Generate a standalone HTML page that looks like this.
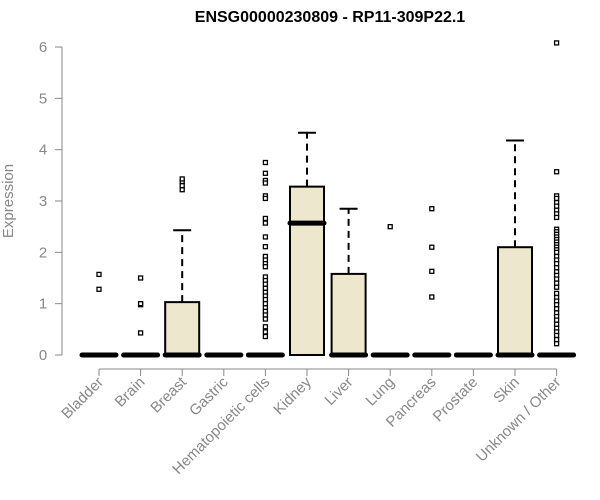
<!DOCTYPE html>
<html><head><meta charset="utf-8"><style>body{margin:0;background:#fff}svg{display:block;font-family:"Liberation Sans",sans-serif}</style></head>
<body>
<svg id="c" width="600" height="500">
<text x="330" y="22" text-anchor="middle" font-weight="bold" font-size="16">ENSG00000230809 - RP11-309P22.1</text>
<text transform="translate(13,201) rotate(-90)" text-anchor="middle" font-size="15" fill="#888">Expression</text>
<g id="g"></g>
</svg>
<script>
const categories=["Bladder","Brain","Breast","Gastric","Hematopoietic cells","Kidney","Liver","Lung","Pancreas","Prostate","Skin","Unknown / Other"];
const q1=[0,0,0,0,0,0,0,0,0,0,0,0];
const medians=[0,0,0,0,0,2.57,0,0,0,0,0,0];
const q3=[0,0,1.03,0,0,3.28,1.58,0,0,0,2.1,0];
const whiskerHi=[0,0,2.43,0,0,4.33,2.85,0,0,0,4.18,0];
const outliers=[[1.28,1.57],[0.43,0.98,1.0,1.5],[3.22,3.3,3.38,3.43],[],
[3.75,3.54,3.4,3.35,3.1,3.05,2.66,2.57,2.3,2.11,1.92,1.85,1.78,1.72,1.52,1.45,1.38,1.3,1.22,1.15,1.08,1.0,0.92,0.85,0.78,0.7,0.55,0.45,0.36],
[],[],[2.5],[1.13,1.63,2.1,2.85],[],[],
[6.08,3.57,3.1,3.05,2.97,2.9,2.82,2.75,2.68,2.45,2.4,2.35,2.3,2.25,2.2,2.15,2.1,2.05,2.0,1.92,1.85,1.78,1.7,1.62,1.55,1.48,1.4,1.32,1.2,1.12,1.05,0.98,0.9,0.82,0.75,0.68,0.6,0.52,0.45,0.38,0.3,0.22]];
const yTicks=[0,1,2,3,4,5,6];
const NS="http://www.w3.org/2000/svg",g=document.getElementById('g');
const y=v=>355-v*51.33, x=i=>99+i*41.6;
function mk(t,a){const e=document.createElementNS(NS,t);for(const k in a)e.setAttribute(k,a[k]);g.appendChild(e);return e;}
let e=mk('line',{x1:62,x2:62,y1:y(0),y2:y(6),stroke:'#888'});


yTicks.forEach(t=>{mk('line',{x1:55,x2:62,y1:y(t),y2:y(t),stroke:'#888'});
const tx=mk('text',{x:43,y:y(t)+5,'text-anchor':'middle','font-size':15,fill:'#888'});tx.textContent=t;

});
e=mk('line',{x1:x(0),x2:x(11),y1:369,y2:369,stroke:'#888'});


categories.forEach((c,i)=>{const cx=x(i),w=17;
mk('line',{x1:cx,x2:cx,y1:369,y2:376,stroke:'#888'});
const tx=mk('text',{transform:`translate(${cx+5},${383}) rotate(-45)`,'text-anchor':'end','font-size':15,fill:'#888'});tx.textContent=c;


if(whiskerHi[i]>q3[i]){mk('line',{x1:cx,x2:cx,y1:y(q3[i]),y2:y(whiskerHi[i]),stroke:'#000','stroke-width':2,'stroke-dasharray':'7,5'});
mk('line',{x1:cx-9,x2:cx+9,y1:y(whiskerHi[i]),y2:y(whiskerHi[i]),stroke:'#000','stroke-width':2});}
if(q3[i]>q1[i]){const b=mk('rect',{x:cx-w,y:y(q3[i]),width:2*w,height:y(q1[i])-y(q3[i]),fill:'#ede7cd',stroke:'#000','stroke-width':2});

}
const m=mk('line',{x1:cx-w,x2:cx+w,y1:y(medians[i]),y2:y(medians[i]),stroke:'#000','stroke-width':5,'stroke-linecap':'round'});


outliers[i].forEach(v=>{const p=mk('rect',{x:cx-2,y:y(v)-2,width:4,height:4,fill:'#fff',stroke:'#000','stroke-width':1.3});

});
});
</script>
</body></html>
